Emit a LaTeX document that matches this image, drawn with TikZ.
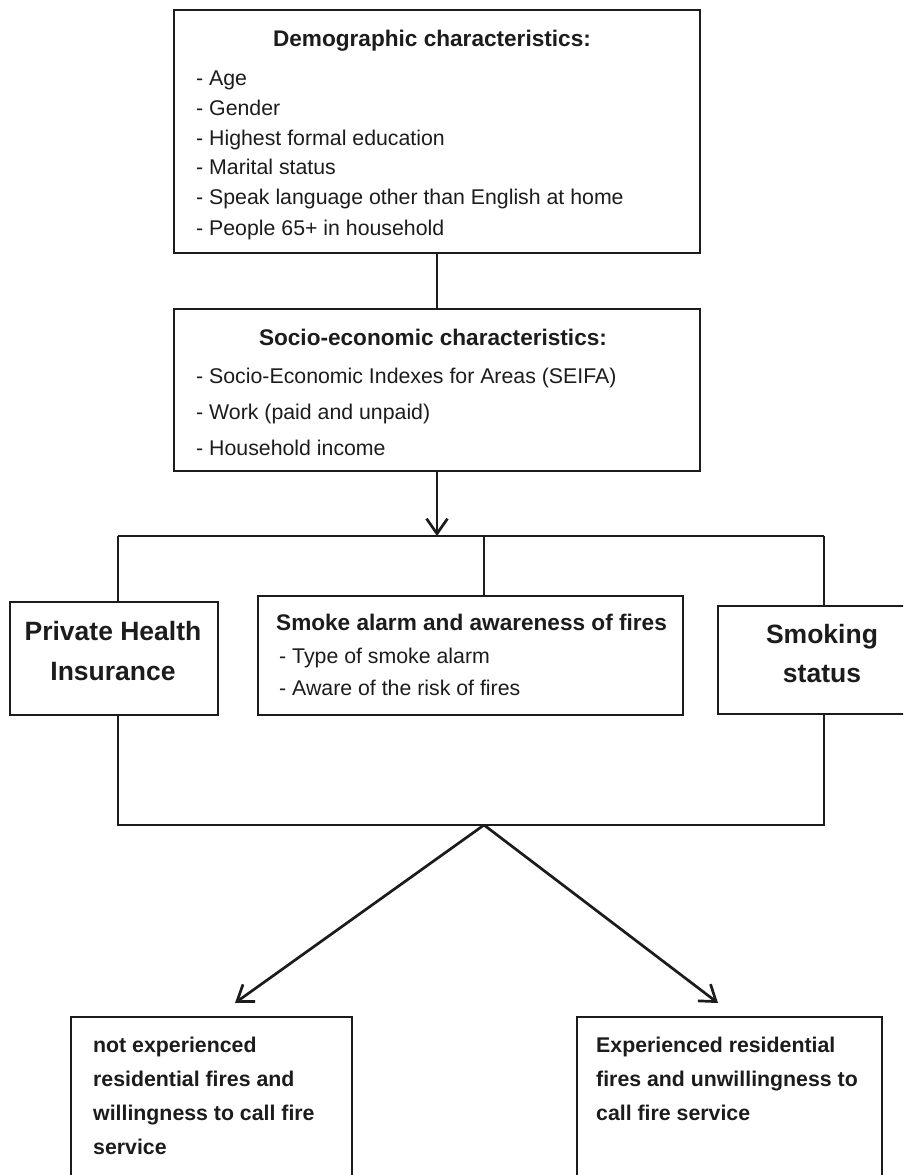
\documentclass[tikz,border=0pt]{standalone}
\usepackage{fontspec}
\setmainfont{Liberation Sans}
\usetikzlibrary{arrows.meta}
\definecolor{ink}{HTML}{1C1C1C}
\begin{document}
\begin{tikzpicture}[x=1pt,y=-1pt,
  lw/.style={line width=2.7pt, draw=ink},
  box/.style={lw, rectangle, inner sep=0pt, outer sep=0pt, anchor=north west},
  arr/.style={lw, -{Straight Barb[length=15pt,width=21pt,line width=2.7pt]}},
  txt/.style={anchor=base west, inner sep=0pt, text=ink, font=\fontsize{21.3}{25}\selectfont},
  btxt/.style={anchor=base west, inner sep=0pt, text=ink, font=\fontsize{21.3}{25}\selectfont\bfseries},
  ttl/.style={anchor=base, inner sep=0pt, text=ink, font=\fontsize{22.6}{27}\selectfont\bfseries},
  big/.style={anchor=base, inner sep=0pt, text=ink, font=\fontsize{26.5}{30}\selectfont\bfseries}]
\useasboundingbox (0,0) rectangle (903,1175);
\clip (0,0) rectangle (903,1175);
\fill[white] (0,0) rectangle (903,1175);

% boxes
\node[box, minimum width=526pt, minimum height=243pt] (demo) at (174,10) {};
\node[box, minimum width=526pt, minimum height=162pt] (socio) at (174,309) {};
\node[box, minimum width=208pt, minimum height=113pt] (phi) at (10,602) {};
\node[box, minimum width=425pt, minimum height=119pt] (smoke) at (258,596) {};
\node[box, minimum width=212pt, minimum height=108pt] (smoking) at (718,606) {};
\node[box, minimum width=281pt, minimum height=200pt] (notexp) at (71,1017) {};
\node[box, minimum width=305pt, minimum height=200pt] (exp) at (577,1017) {};

% texts: demographic
\node[ttl] (demoT) at (432,46) {Demographic characteristics:};
\node[txt] (d1) at (196,85) {- Age};
\node[txt] (d2) at (196,115) {- Gender};
\node[txt] (d3) at (196,145) {- Highest formal education};
\node[txt] (d4) at (196,174) {- Marital status};
\node[txt] (d5) at (196,204) {- Speak language other than English at home};
\node[txt] (d6) at (196,235) {- People 65+ in household};

% socio-economic
\node[ttl] (socT) at (433,345) {Socio-economic characteristics:};
\node[txt] (s1) at (196,383) {- Socio-Economic Indexes for Areas (SEIFA)};
\node[txt] (s2) at (196,419) {- Work (paid and unpaid)};
\node[txt] (s3) at (196,455) {- Household income};

% middle row
\node[big] (phi1) at (113,640) {Private Health};
\node[big] (phi2) at (113,680) {Insurance};
\node[ttl, anchor=base west] (smT) at (276,630) {Smoke alarm and awareness of fires};
\node[txt] (sm1) at (279,663) {- Type of smoke alarm};
\node[txt] (sm2) at (279,695) {- Aware of the risk of fires};
\node[big] (sk1) at (822,643) {Smoking};
\node[big] (sk2) at (822,682) {status};

% bottom
\node[btxt] (n1) at (93,1052) {not experienced};
\node[btxt] (n2) at (93,1086) {residential fires and};
\node[btxt] (n3) at (93,1120) {willingness to call fire};
\node[btxt] (n4) at (93,1154) {service};
\node[btxt] (e1) at (596,1052) {Experienced residential};
\node[btxt] (e2) at (596,1086) {fires and unwillingness to};
\node[btxt] (e3) at (596,1120) {call fire service};

% connector coordinates
\coordinate (busmid) at (437,536);
\coordinate (tl) at (118,536);
\coordinate (tm) at (484,536);
\coordinate (tr) at (824,536);
\coordinate (bl) at (118,825);
\coordinate (br) at (824,825);
\coordinate (apex) at (484,825);
\coordinate (tipL) at (235,1003);
\coordinate (tipR) at (718,1003);

% connectors
\draw[lw] (demo.south) -- (socio.north);
\draw[arr] (socio.south) -- (busmid);
\draw[lw] (tl) -- (tr);
\draw[lw] (tl) -- (tl |- phi.north);
\draw[lw] (tm) -- (tm |- smoke.north);
\draw[lw] (tr) -- (tr |- smoking.north);
\draw[lw] (bl |- phi.south) -- (bl) -- (br) -- (br |- smoking.south);
\draw[arr] (apex) -- (tipL);
\draw[arr] (apex) -- (tipR);
\end{tikzpicture}
\end{document}
